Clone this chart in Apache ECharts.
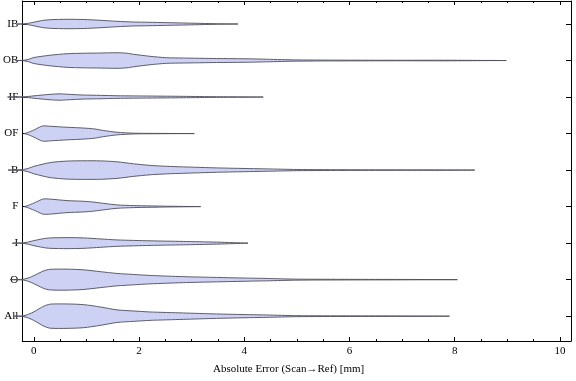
<!DOCTYPE html>
<html>
<head>
<meta charset="utf-8">
<script src="https://cdn.jsdelivr.net/npm/echarts@6/dist/echarts.min.js"></script>
<style>
html,body{margin:0;padding:0;background:#fff;}
#chart{width:576px;height:381px;}
</style>
</head>
<body>
<div id="chart"></div>
<script>
// Categories (top to bottom)
const categories = ['IB', 'OB', 'IF', 'OF', 'B', 'F', 'I', 'O', 'All'];

// Violin profiles: [error value (mm), density (half-width)]
const profileIB = [[-0.32,0],[-0.2,0.1],[-0.1,0.8],[0,1.8],[0.16,3.5],[0.31,4.3],[0.63,4.7],[0.95,4.5],[1.26,3.7],[1.58,2.7],[1.89,2.0],[2.21,1.7],[2.84,1.0],[3.47,0.3],[3.88,0]];
const profileOB = [[-0.35,0],[-0.2,0.2],[-0.1,1.2],[0,3.0],[0.31,5.3],[0.63,6.8],[0.95,7.3],[1.26,7.5],[1.58,7.8],[1.77,7.3],[1.89,6.3],[2.21,4.2],[2.52,2.8],[2.84,2.5],[3.47,2.0],[4.1,1.7],[4.42,1.3],[5.0,0.6],[6.0,0.35],[7.0,0.25],[7.8,0.3],[8.5,0.1],[8.98,0]];
const profileIF = [[-0.5,0],[-0.2,0.2],[-0.1,0.6],[0,1.2],[0.31,2.7],[0.5,3.2],[0.63,2.8],[0.95,2.0],[1.26,1.7],[1.58,1.3],[2.21,1.0],[2.84,0.7],[3.47,0.3],[4.1,0.15],[4.36,0]];
const profileOF = [[-0.19,0],[-0.13,0.7],[0,3.5],[0.13,7.0],[0.19,7.7],[0.31,7.3],[0.63,6.3],[0.95,5.5],[1.14,4.7],[1.33,3.0],[1.58,1.3],[1.89,0.4],[2.21,0.2],[3.05,0]];
const profileB = [[-0.49,0],[-0.2,0.6],[-0.1,1.8],[0,3.7],[0.31,7.5],[0.63,9.0],[0.95,9.3],[1.26,9.2],[1.58,8.3],[1.89,6.3],[2.21,4.7],[2.52,3.8],[2.84,3.2],[3.47,2.2],[4.1,1.5],[4.42,1.2],[5.0,0.6],[6.0,0.3],[7.0,0.2],[7.8,0.2],[8.38,0]];
const profileF = [[-0.19,0],[-0.13,0.8],[0,3.5],[0.13,6.7],[0.19,7.7],[0.31,7.5],[0.63,6.0],[0.95,5.3],[1.14,4.5],[1.33,3.2],[1.58,1.7],[1.89,1.0],[2.21,0.7],[2.52,0.4],[2.84,0.2],[3.17,0]];
const profileI = [[-0.41,0],[-0.2,0.3],[-0.1,1.2],[0,2.5],[0.19,4.5],[0.31,5.2],[0.63,5.5],[0.95,5.2],[1.26,4.2],[1.58,3.2],[2.21,2.3],[2.84,1.7],[3.47,1.0],[3.79,0.5],[4.07,0]];
const profileO = [[-0.45,0],[-0.2,0.4],[-0.1,1.8],[0,4.0],[0.19,8.8],[0.31,10.3],[0.63,10.5],[0.95,9.8],[1.26,8.0],[1.58,6.2],[1.89,5.2],[2.21,4.2],[2.84,3.0],[3.47,2.2],[4.1,1.5],[4.42,1.2],[5.0,0.5],[6.0,0.3],[7.0,0.2],[8.05,0]];
const profileAll = [[-0.38,0],[-0.2,0.4],[-0.1,1.9],[0,4.3],[0.19,10.0],[0.31,12.0],[0.63,12.2],[0.95,11.5],[1.26,9.2],[1.58,6.3],[1.89,5.2],[2.21,4.2],[2.84,3.2],[3.47,2.2],[4.1,1.5],[4.42,1.2],[5.0,0.5],[6.0,0.3],[7.0,0.2],[7.9,0]];

const profiles = [profileIB, profileOB, profileIF, profileOF, profileB, profileF, profileI, profileO, profileAll];

// Tick values
const majorTicks = [0, 2, 4, 6, 8, 10];
const minorTicks = [0.5, 1, 1.5, 2.5, 3, 3.5, 4.5, 5, 5.5, 6.5, 7, 7.5, 8.5, 9, 9.5];
const catTicks = [0, 1, 2, 3, 4, 5, 6, 7, 8];

const DENSITY_SCALE = 1 / 36.5; // density unit -> category spacing
const FONT = '"Liberation Serif", "Times New Roman", serif';

const chart = echarts.init(document.getElementById('chart'), null, {renderer: 'canvas'});

function renderViolin(params, api) {
  const idx = api.value(0);
  const prof = profiles[idx];
  const top = [], bot = [];
  for (let i = 0; i < prof.length; i++) {
    const w = prof[i][1] * DENSITY_SCALE;
    top.push(api.coord([prof[i][0], idx - w]));
    bot.push(api.coord([prof[i][0], idx + w]));
  }
  const pts = top.concat(bot.reverse());
  return {
    type: 'polygon',
    shape: {points: pts, smooth: 0.25},
    style: {fill: '#cdd2f5', stroke: '#4d4d5a', lineWidth: 0.9}
  };
}

function xAxisDef(pos, ticks, len, showLine, showLabel) {
  return {
    type: 'value', position: pos, min: -0.22, max: 10.21,
    axisLine: {show: showLine, onZero: false, lineStyle: {color: '#000', width: 1}},
    axisTick: {show: true, inside: true, length: len, customValues: ticks, lineStyle: {color: '#000', width: 1}},
    axisLabel: {show: showLabel, customValues: ticks, margin: 5, color: '#000', fontFamily: FONT, fontSize: 11},
    splitLine: {show: false}, minorTick: {show: false}
  };
}

function yAxisDef(pos, showLabel) {
  return {
    type: 'value', position: pos, inverse: true, min: -0.63, max: 8.68,
    axisLine: {show: true, onZero: false, lineStyle: {color: '#000', width: 1}},
    axisTick: {show: true, inside: true, length: 5, customValues: catTicks, lineStyle: {color: '#000', width: 1}},
    axisLabel: {show: showLabel, customValues: catTicks, margin: 4, color: '#000', fontFamily: FONT, fontSize: 11,
      formatter: v => categories[Math.round(v)]},
    splitLine: {show: false}
  };
}

chart.setOption({
  animation: false,
  backgroundColor: '#fff',
  grid: {left: 20, right: 5, top: 1, bottom: 40, containLabel: false},
  xAxis: [
    xAxisDef('bottom', majorTicks, 4, true, true),
    xAxisDef('bottom', minorTicks, 2, false, false),
    xAxisDef('top', majorTicks, 4, true, false),
    xAxisDef('top', minorTicks, 2, false, false)
  ],
  yAxis: [yAxisDef('left', true), yAxisDef('right', false)],
  graphic: [{
    type: 'text', left: 213, top: 364,
    style: {text: 'Absolute Error (Scan\u2192Ref) [mm]', font: '11px ' + FONT, fill: '#000'}
  }],
  series: [{
    type: 'custom',
    clip: false,
    renderItem: renderViolin,
    encode: {x: -1, y: 0},
    data: catTicks.map(i => [i])
  }]
});
</script>
</body>
</html>
